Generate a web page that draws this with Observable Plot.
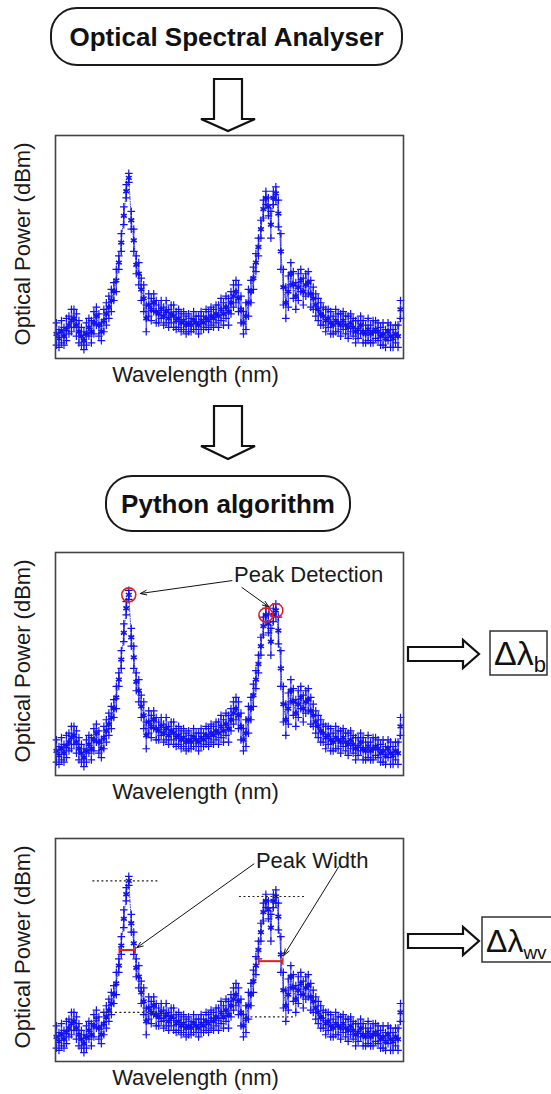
<!DOCTYPE html>
<html><head><meta charset="utf-8">
<script src="https://cdn.jsdelivr.net/npm/d3@7"></script>
<script src="https://cdn.jsdelivr.net/npm/@observablehq/plot@0.6"></script>
<style>
html,body{margin:0;padding:0;background:#fff;overflow:hidden;}
#root{position:relative;width:551px;height:1094px;font-family:"Liberation Sans",Arial,sans-serif;overflow:hidden;}
.pw{position:absolute;left:0;}
#overlay{position:absolute;left:0;top:0;z-index:5;pointer-events:none;}
</style></head><body><div id="root"></div>
<script>
// Spectrum (relative units: 0 = frame bottom, 100 = frame top)
const power = [11,9,12,10,13,15,17,18,15,12, 10,8,11,14,12,16,19,15,12,17,
  20,23,26,30,35,43,52,64,75,81, 62,53,42,38,31,27,18,24,22,25,
  21,20,22,19,21,18,20,19,17,18, 16,17,15,16,15,17,16,15,17,16,
  18,17,19,18,20,19,22,20,23,21, 25,28,30,27,22,16,19,25,30,36,
  43,50,58,67,72,68,60,72,74,65, 48,32,25,30,38,33,28,32,35,30,
  33,34,29,27,24,22,20,19,17,18, 16,15,17,16,15,17,15,14,16,14,
  12,13,15,12,11,13,11,12,13,12, 10,11,9,12,10,9,11,10,22];
const spread = [5,4,5,4,5,4,5,4,5,5, 4,4,5,4,5,5,4,5,4,5,
  5,5,5,4,5,3,4,4,3,2, 4,5,4,5,5,6,6,5,5,4,
  5,4,4,4,5,4,4,5,4,4, 4,4,4,4,3,4,3,4,4,3,
  4,4,4,4,4,5,5,5,5,6, 5,5,5,6,6,5,6,6,5,5,
  4,4,4,4,3,4,6,3,3,6, 8,8,7,7,5,6,6,6,5,6,
  5,5,6,5,5,5,5,4,5,4, 5,4,5,4,5,4,4,5,4,4,
  5,4,4,5,4,5,4,5,4,4, 4,5,4,4,5,4,4,5,4];

// Peak detection (sample index, level)
const peakX = [29, 84, 88];
const peakY = [81, 72, 74];
// Peak width: top level, base level, half-level bar
const widthPeakLevel = [81, 74];
const widthBaseLevel = [22, 20];
const widthHalfLevel = [50, 45];
const widthLeft = [25.2, 81.2];
const widthRight = [31.6, 90.8];

const rows = power.map((v, i) => ({x: i, y: v, lo: v - spread[i], hi: v + spread[i]}));
const BLUE = "#1212ee";
const FONT = "'Liberation Sans', Arial, sans-serif";

function spectrum(extra) {
  return Plot.plot({
    width: 551, height: 273,
    marginLeft: 55, marginRight: 148, marginTop: 10, marginBottom: 40,
    x: {domain: [-0.4, 139.2], axis: null},
    y: {domain: [0, 100], axis: null},
    style: {background: "transparent", fontFamily: FONT, overflow: "visible"},
    marks: [
      Plot.line(rows, {x: "x", y: "y", stroke: BLUE, strokeWidth: 0.8, strokeDasharray: "1 1.5"}),
      Plot.ruleX(rows, {x: "x", y1: "lo", y2: "hi", stroke: BLUE, strokeWidth: 1.3, strokeOpacity: 0.75}),
      Plot.dot(rows, {x: "x", y: "lo", symbol: "plus", r: 2.6, stroke: BLUE, strokeWidth: 1.2}),
      Plot.dot(rows, {x: "x", y: "hi", symbol: "plus", r: 2.6, stroke: BLUE, strokeWidth: 1.2}),
      Plot.dot(rows, {x: "x", y: "y", symbol: "asterisk", r: 3.2, stroke: BLUE, strokeWidth: 1.6}),
      ...extra,
      Plot.frame({stroke: "#444", strokeWidth: 1.6}),
      Plot.text(["Optical Power (dBm)"], {frameAnchor: "left", text: d => d, rotate: -90, textAnchor: "middle", dx: -33, dy: -3, fontSize: 22, fill: "#1a1a1a"}),
      Plot.text(["Wavelength (nm)"], {frameAnchor: "bottom", text: d => d, textAnchor: "middle", dx: -34, dy: 23, fontSize: 22, fill: "#1a1a1a"})
    ]
  });
}

const detectMarks = [
  Plot.dot(peakX.map((x, i) => ({x, y: peakY[i]})), {x: "x", y: "y", r: 7, stroke: "#e02020", strokeWidth: 1.6, fill: "none"}),
  Plot.arrow([{x1: 70.4, y1: 87.4, x2: 33.6, y2: 81.6}, {x1: 74.4, y1: 84.3, x2: 85.2, y2: 75.6}],
    {x1: "x1", y1: "y1", x2: "x2", y2: "y2", stroke: "#111", strokeWidth: 1, headLength: 10, headAngle: 40}),
  Plot.text([{x: 71.2, y: 90, t: "Peak Detection"}], {x: "x", y: "y", text: "t", textAnchor: "start", fontSize: 22, fill: "#1a1a1a"})
];

const topLines = [{x1: 14.4, x2: 41, y: widthPeakLevel[0]}, {x1: 73.2, x2: 99.6, y: widthPeakLevel[1]}];
const baseLines = [{x1: 18, x2: 42, y: widthBaseLevel[0]}, {x1: 76, x2: 96, y: widthBaseLevel[1]}];
const bars = widthLeft.map((l, i) => ({x1: l, x2: widthRight[i], y: widthHalfLevel[i]}));
const caps = bars.flatMap(b => [{x: b.x1, y1: b.y - 1.6, y2: b.y + 1.6}, {x: b.x2, y1: b.y - 1.6, y2: b.y + 1.6}]);
const widthMarks = [
  Plot.link(topLines, {x1: "x1", x2: "x2", y1: "y", y2: "y", stroke: "#222", strokeWidth: 1.2, strokeDasharray: "2 2.5"}),
  Plot.link(baseLines, {x1: "x1", x2: "x2", y1: "y", y2: "y", stroke: "#222", strokeWidth: 1.2, strokeDasharray: "2 2.5"}),
  Plot.link(bars, {x1: "x1", x2: "x2", y1: "y", y2: "y", stroke: "#e02020", strokeWidth: 2}),
  Plot.link(caps, {x1: "x", x2: "x", y1: "y1", y2: "y2", stroke: "#e02020", strokeWidth: 1.5}),
  Plot.arrow([{x1: 79.2, y1: 88.6, x2: 32.2, y2: 51}, {x1: 113.2, y1: 87.3, x2: 91.2, y2: 47.6}],
    {x1: "x1", y1: "y1", x2: "x2", y2: "y2", stroke: "#111", strokeWidth: 1, headLength: 10, headAngle: 40}),
  Plot.text([{x: 80, y: 90, t: "Peak Width"}], {x: "x", y: "y", text: "t", textAnchor: "start", fontSize: 22, fill: "#1a1a1a"})
];

const root = document.getElementById("root");
function place(el, top) { const d = document.createElement("div"); d.className = "pw"; d.style.top = top + "px"; d.appendChild(el); root.appendChild(d); }
place(spectrum([]), 125);
place(spectrum(detectMarks), 542);
place(spectrum(widthMarks), 828);

// Flow-diagram overlay
const svg = d3.select(root).append("svg").attr("id", "overlay").attr("width", 551).attr("height", 1094)
  .attr("font-family", FONT);
function pill(x, y, w, h, label) {
  svg.append("rect").attr("x", x).attr("y", y).attr("width", w).attr("height", h).attr("rx", 26)
    .attr("fill", "#fff").attr("stroke", "#1a1a1a").attr("stroke-width", 2);
  svg.append("text").attr("x", x + w / 2).attr("y", y + h / 2 + 9.5).attr("text-anchor", "middle")
    .attr("font-size", 26).attr("font-weight", "bold").attr("fill", "#111").text(label);
}
function downArrow(cx, y0, y1, tip) {
  const p = [[cx - 14, y0], [cx - 14, y1], [cx - 27, y1], [cx, tip], [cx + 27, y1], [cx + 14, y1], [cx + 14, y0]];
  svg.append("polygon").attr("points", p.map(d => d.join(",")).join(" ")).attr("fill", "#fff").attr("stroke", "#111").attr("stroke-width", 2.2).attr("stroke-linejoin", "miter");
}
function rightArrow(cy, x0, x1, tip) {
  const p = [[x0, cy - 7], [x1, cy - 7], [x1, cy - 14], [tip, cy], [x1, cy + 14], [x1, cy + 7], [x0, cy + 7]];
  svg.append("polygon").attr("points", p.map(d => d.join(",")).join(" ")).attr("fill", "#fff").attr("stroke", "#111").attr("stroke-width", 2.2);
}
function deltaBox(x, y, w, h, sub, size, subSize) {
  svg.append("rect").attr("x", x).attr("y", y).attr("width", w).attr("height", h).attr("fill", "#fff").attr("stroke", "#333").attr("stroke-width", 1.5);
  const t = svg.append("text").attr("x", x + 4).attr("y", y + h - 10).attr("font-size", size).attr("fill", "#111");
  t.append("tspan").text("Δλ");
  t.append("tspan").attr("font-size", subSize).attr("dy", 7).text(sub);
}
pill(51, 8, 351, 57, "Optical Spectral Analyser");
downArrow(228, 79, 119, 131);
downArrow(228, 406, 446, 459);
pill(106, 476, 244, 55, "Python algorithm");
rightArrow(654, 408, 463, 479);
deltaBox(490, 631, 57, 44, "b", 34, 22);
rightArrow(941, 408, 463, 479);
deltaBox(482, 917, 90, 45, "wv", 32, 19);
</script></body></html>
